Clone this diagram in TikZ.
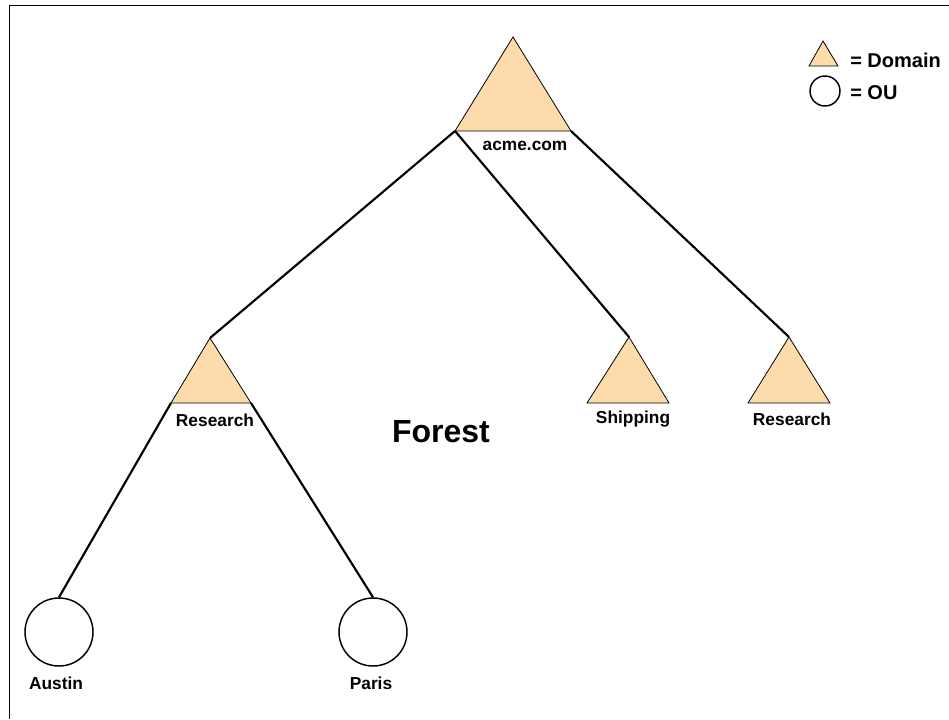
\documentclass[tikz,border=0pt]{standalone}
\usepackage{fontspec}
\setmainfont{Liberation Sans}
\usetikzlibrary{positioning}

\definecolor{domainfill}{RGB}{254,219,171}

\tikzset{
  domaintri/.style={draw=black, line width=0.6pt, fill=domainfill},
  ou/.style={circle, draw=black, line width=1.1pt, minimum size=51pt, inner sep=0pt},
  lbl/.style={font=\bfseries\fontsize{13}{15}\selectfont, inner sep=0pt},
  legendtxt/.style={font=\bfseries\fontsize{15}{17}\selectfont, inner sep=0pt, anchor=west},
  link/.style={line width=1.6pt},
}

\begin{document}
\begin{tikzpicture}[x=0.75pt,y=-0.75pt]
  \useasboundingbox (0,0) rectangle (949,719);
  \draw[line width=0.75pt] (949,5) -- (9,5) -- (9,719);

  % corners of the domain triangles
  \coordinate (acme-t) at (513,37);  \coordinate (acme-l) at (455,131); \coordinate (acme-r) at (571,131);
  \coordinate (res-t) at (210,338);  \coordinate (res-l) at (171,403);  \coordinate (res-r) at (251,403);
  \coordinate (ship-t) at (629,337); \coordinate (ship-l) at (587,403); \coordinate (ship-r) at (669,403);
  \coordinate (res2-t) at (789,337); \coordinate (res2-l) at (748,403); \coordinate (res2-r) at (830,403);

  % organisational units
  \node[ou] (austin) at (59,632) {};
  \node[ou] (paris) at (373,632) {};

  % tree links
  \draw[link] (acme-l) -- (res-t);
  \draw[link] (acme-l) -- (ship-t);
  \draw[link] (acme-r) -- (res2-t);
  \draw[link] (res-l) -- (austin.north);
  \draw[link] (res-r) -- (paris.north);

  \draw[domaintri] (acme-t) -- (acme-l) -- (acme-r) -- cycle;
  \draw[domaintri] (res-t) -- (res-l) -- (res-r) -- cycle;
  \draw[domaintri] (ship-t) -- (ship-l) -- (ship-r) -- cycle;
  \draw[domaintri] (res2-t) -- (res2-l) -- (res2-r) -- cycle;

  % labels
  \node[lbl] (acmelbl) at (525,146) {acme.com};
  \node[lbl] (reslbl) at (215,420) {Research};
  \node[lbl] (shiplbl) at (633,419) {Shipping};
  \node[lbl] (res2lbl) at (792,419) {Research};
  \node[lbl] (austinlbl) at (56,683) {Austin};
  \node[lbl] (parislbl) at (371,683) {Paris};

  \node[font=\bfseries\fontsize{24}{28}\selectfont, inner sep=0pt] (title) at (441,432) {Forest};

  % legend
  \coordinate (key-t) at (823,41); \coordinate (key-l) at (809,66); \coordinate (key-r) at (838,66);
  \draw[domaintri] (key-t) -- (key-l) -- (key-r) -- cycle;
  \node[ou, minimum size=22.5pt] (keyou) at (825,91) {};
  \node[legendtxt] (keydom) at (850,60) {= Domain};
  \node[legendtxt] (keyoulbl) at (850,92.5) {= OU};
\end{tikzpicture}
\end{document}
